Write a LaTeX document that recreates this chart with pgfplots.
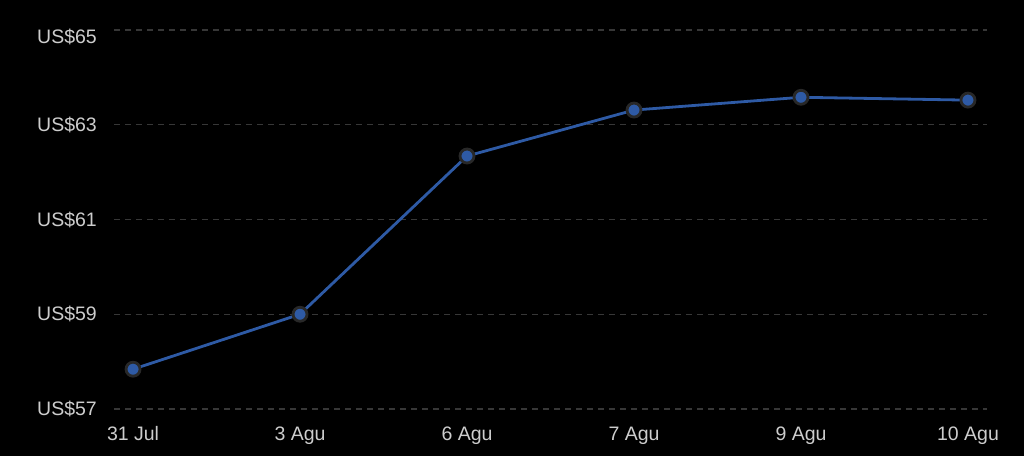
\documentclass[border=0pt]{standalone}
\usepackage{pgfplots}
\pgfplotsset{compat=1.18}
\usepackage{fontspec}
\setmainfont{Liberation Sans}
\definecolor{bgc}{RGB}{0,0,0}
\definecolor{txt}{RGB}{205,205,205}
\definecolor{gridc}{RGB}{55,55,55}
\definecolor{linec}{RGB}{46,90,165}
\definecolor{ring}{RGB}{40,40,40}
\begin{document}
\begin{tikzpicture}[x=1pt,y=1pt]
\fill[bgc] (0,0) rectangle (1024,456);
\path[use as bounding box] (0,0) rectangle (1024,456);
\begin{axis}[
  at={(114pt,47pt)}, anchor=south west,
  scale only axis,
  width=873pt, height=379pt,
  xmin=-0.114, xmax=5.114,
  ymin=57, ymax=65,
  axis line style={draw=none},
  major tick length=0pt,
  xtick={0,1,2,3,4,5},
  xticklabels={31 Jul,3 Agu,6 Agu,7 Agu,9 Agu,10 Agu},
  ytick={57,59,61,63},
  yticklabels={US\$57,US\$59,US\$61,US\$63},
  extra y ticks={65},
  extra y tick labels={US\$65},
  extra y tick style={grid=major, yticklabel style={yshift=-7pt}},
  ymajorgrids,
  major grid style={gridc, dash pattern=on 6pt off 5pt, line width=1.2pt},
  tick label style={font=\fontsize{19.5}{21}\selectfont, text=txt},
  yticklabel style={anchor=east, inner sep=0pt, xshift=-17pt},
  xticklabel style={anchor=base, inner sep=0pt, yshift=-31pt},
  clip=false,
]
\addplot[linec, line width=2.8pt,
  mark=*, mark size=7pt,
  mark options={fill=linec, draw=ring, line width=2.8pt}]
  coordinates {
(0,57.84)
(1,59.0)
(2,62.34)
(3,63.31)
(4,63.58)
(5,63.52)
};
\end{axis}
\end{tikzpicture}
\end{document}
